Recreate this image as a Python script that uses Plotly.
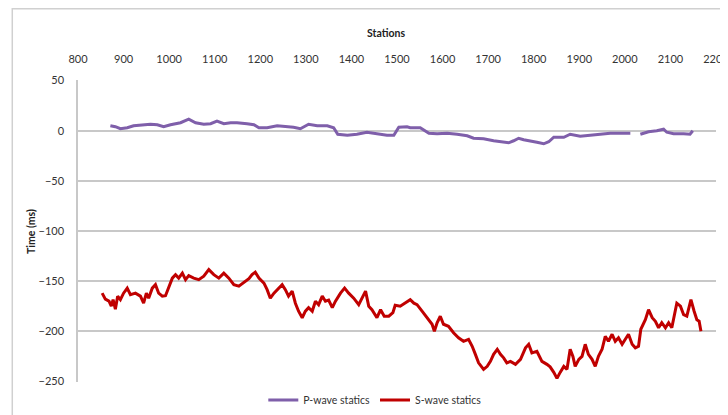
import plotly.graph_objects as go

# ---- data ----
p_station = [871, 882, 893, 908, 922, 944, 959, 974, 988, 1003, 1025, 1043, 1058, 1076, 1091,
             1105, 1120, 1135, 1149, 1171, 1186, 1197, 1215, 1237, 1259, 1273, 1288, 1306, 1325,
             1347, 1361, 1370, 1391, 1412, 1434, 1456, 1478, 1493, 1504, 1522, 1529, 1551, 1562,
             1570, 1588, 1610, 1632, 1654, 1668, 1690, 1712, 1727, 1745, 1756, 1767, 1778, 1793,
             1807, 1822, 1833, 1844, 1866, 1880, 1902, 1924, 1946, 1968, 1990, 2012, 2022, 2034,
             2052, 2070, 2085, 2092, 2107, 2129, 2143, 2149]
p_time = [5, 4, 2, 3, 5, 6, 6.5, 6, 4, 6, 8, 11.5, 8, 6.5, 7,
          9.5, 7, 8, 8, 7, 6, 3, 3, 5, 4, 3.5, 2, 6.5, 5,
          5, 3, -3.5, -4.5, -3.5, -1.5, -3, -4.5, -4.5, 3.5, 4, 3, 3, 0,
          -2.5, -3, -2.5, -3.5, -5, -7.5, -8, -10, -11, -12, -10, -7.5, -9, -10,
          -11.5, -13, -11, -6.5, -6.5, -3.5, -5.5, -4.5, -3.5, -2.5, -2.5, -2.5, None, -3.5,
          -1, 0, 1.5, -1.5, -3, -3, -3.5, 0]

s_station = [853, 860, 868, 873, 877, 882, 887, 893, 900, 908, 915, 926, 937, 944, 950, 955,
             963, 970, 977, 985, 992, 997, 1007, 1014, 1021, 1029, 1036, 1043, 1054, 1065, 1076,
             1087, 1098, 1109, 1120, 1131, 1142, 1153, 1164, 1175, 1182, 1189, 1197, 1208, 1215,
             1222, 1230, 1240, 1248, 1255, 1262, 1270, 1277, 1284, 1292, 1299, 1306, 1314, 1321,
             1328, 1336, 1343, 1350, 1358, 1365, 1376, 1385, 1394, 1405, 1416, 1423, 1431, 1438,
             1445, 1456, 1464, 1472, 1482, 1491, 1496, 1507, 1518, 1529, 1537, 1544, 1555, 1566,
             1577, 1582, 1588, 1595, 1602, 1613, 1624, 1635, 1646, 1657, 1665, 1672, 1679, 1690,
             1698, 1705, 1712, 1720, 1727, 1734, 1741, 1749, 1760, 1771, 1782, 1789, 1796, 1807,
             1818, 1829, 1836, 1844, 1851, 1858, 1866, 1873, 1880, 1886, 1891, 1899, 1906, 1913,
             1920, 1928, 1935, 1942, 1950, 1957, 1964, 1972, 1979, 1986, 1994, 2001, 2008, 2016,
             2023, 2030, 2035, 2045, 2052, 2060, 2067, 2074, 2081, 2089, 2096, 2103, 2108, 2114,
             2122, 2129, 2136, 2145, 2152, 2158, 2163, 2167]
s_time = [-162, -168, -170, -175, -168.5, -178, -165, -168.5, -162, -157, -163.5, -162, -165, -172, -162, -167,
          -157, -153.5, -162, -165, -164.5, -158.5, -147, -143.5, -147, -142, -148.5, -144.5, -147, -148.5, -145,
          -138.5, -143.5, -147, -142, -147, -153.5, -155, -151, -147.5, -143.5, -141, -147, -152, -158.5,
          -167, -162, -157, -153.5, -158.5, -165, -160, -172, -180, -186.5, -180, -176.5, -180, -170,
          -173.5, -165, -170, -169, -176.5, -170, -162, -157, -162, -167, -173.5, -167, -160, -175,
          -178.5, -186.5, -178.5, -185, -185, -181.5, -174, -175, -172, -168.5, -172, -173.5, -180, -186.5,
          -193, -200, -191.5, -185, -193, -195, -201.5, -206.5, -210, -208, -215, -223, -231.5, -238,
          -235, -230, -223, -218, -223, -226.5, -231.5, -230, -233, -228, -216.5, -213, -221.5, -220,
          -230, -233, -235.5, -241, -247, -241, -235, -238, -218, -225, -235, -228, -225, -213,
          -223, -228, -235, -225, -218, -205, -210, -203, -210, -206.5, -213, -208, -203, -213,
          -216.5, -215, -198, -188.5, -178.5, -186.5, -190, -196.5, -191.5, -196.5, -191.5, -196.5, -185, -172,
          -175, -183.5, -185, -168.5, -180, -188.5, -190, -200]

x_ticks = list(range(800, 2201, 100))
y_ticks = [50, 0, -50, -100, -150, -200, -250]

fig = go.Figure()
fig.add_trace(go.Scatter(x=p_station, y=p_time, mode="lines", name="P-wave statics",
                         line=dict(color="#7F5FAA", width=3), connectgaps=False))
fig.add_trace(go.Scatter(x=s_station, y=s_time, mode="lines", name="S-wave statics",
                         line=dict(color="#C00000", width=3)))

# page body adds an 8px offset, so the figure is 720x407 and shifted accordingly
fig.update_layout(
    width=720, height=407,
    margin=dict(l=70, r=12, t=72, b=33, autoexpand=False),
    paper_bgcolor="white", plot_bgcolor="white",
    font=dict(family="Lato, Carlito, sans-serif", size=11, color="#333333"),
    legend=dict(orientation="h", x=0.466, xanchor="center", y=-0.06, yanchor="middle",
                font=dict(size=10.5), bgcolor="rgba(0,0,0,0)"),
    annotations=[
        dict(text="<b>Stations</b>", x=0.482, y=1.1556, xref="paper", yref="paper",
             xanchor="center", yanchor="middle", showarrow=False, font=dict(size=10.5, color="#222")),
        dict(text="<b>Time (ms)</b>", x=-0.0737, y=0.5, xref="paper", yref="paper",
             xanchor="center", yanchor="middle", textangle=-90, showarrow=False,
             font=dict(size=10.5, color="#222")),
    ],
    shapes=[
        dict(type="path", xref="paper", yref="paper",
             path="M -0.103 -0.3 L -0.103 1.236 L 1.1 1.236",
             line=dict(color="#d0d0d0", width=1.5)),
    ],
)
fig.update_xaxes(range=[800, 2200], side="top", tickvals=x_ticks, showgrid=False, zeroline=False,
                 showline=False, ticks="", ticklabelstandoff=14, automargin=False,
                 ticklabeloverflow="allow")
fig.update_yaxes(range=[-250.6, 50.6], tickvals=y_ticks, showgrid=True, gridcolor="#c8c8c8", gridwidth=1.5,
                 zeroline=False, showline=True, linecolor="#c8c8c8", linewidth=1.5, ticks="",
                 ticklabelstandoff=10, automargin=False)

fig.write_html("out.html")
